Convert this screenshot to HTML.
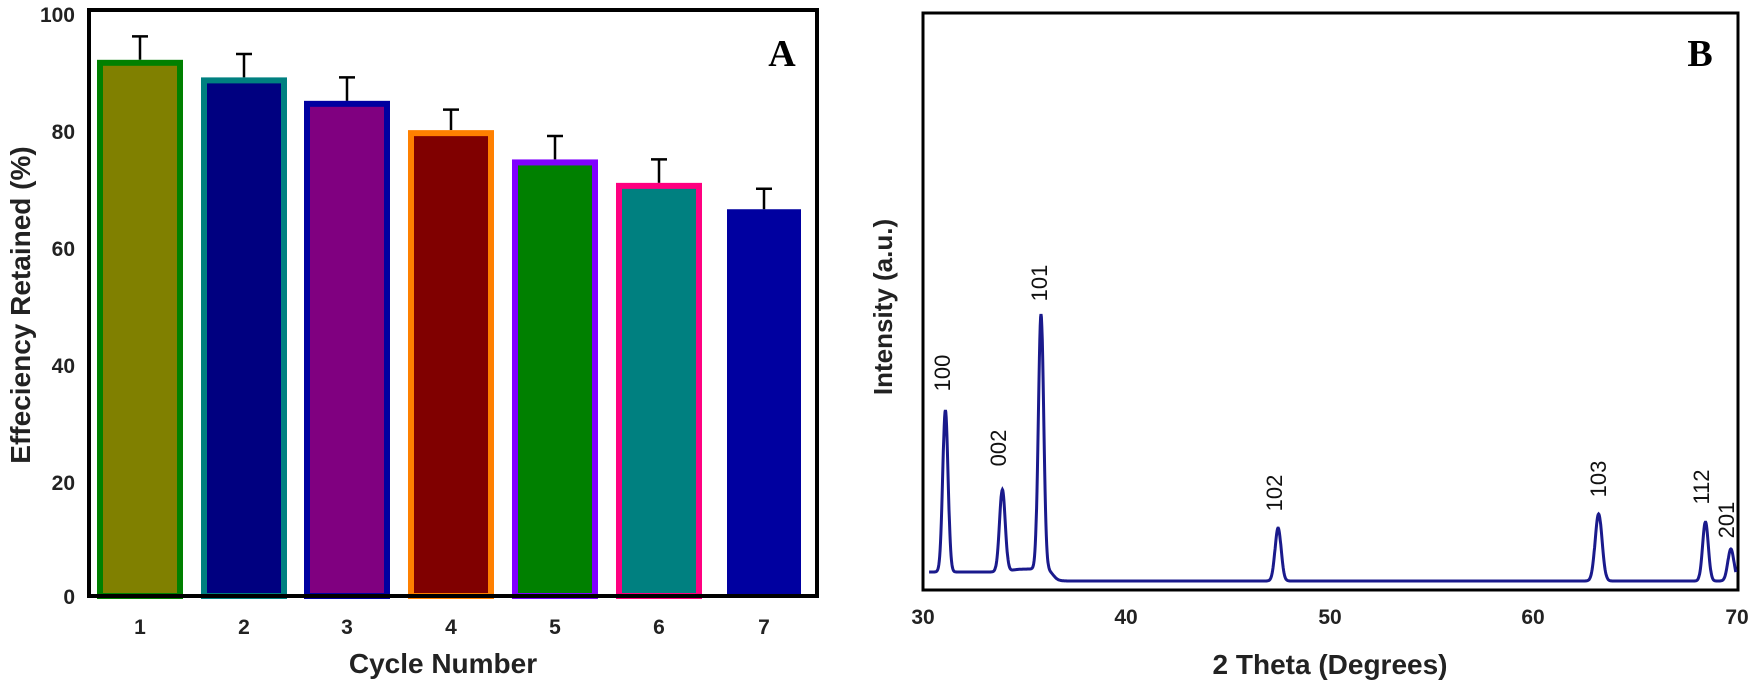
<!DOCTYPE html>
<html><head><meta charset="utf-8"><style>
html,body{margin:0;padding:0;background:#fff;}
svg{display:block;font-family:"Liberation Sans",Arial,sans-serif;}
</style></head><body>
<svg id="s" width="1752" height="685" viewBox="0 0 1752 685" xmlns="http://www.w3.org/2000/svg">
<g font-weight="bold" font-size="21" fill="#222" text-anchor="end">
<text x="75" y="22">100</text><text x="75" y="139">80</text><text x="75" y="256">60</text>
<text x="75" y="373">40</text><text x="75" y="490">20</text><text x="75" y="604">0</text>
</g>
<g font-weight="bold" font-size="21" fill="#222" text-anchor="middle">
<text x="140" y="634">1</text><text x="244" y="634">2</text><text x="347" y="634">3</text><text x="451" y="634">4</text><text x="555" y="634">5</text><text x="659" y="634">6</text><text x="764" y="634">7</text>
</g>
<text x="443" y="673" font-weight="bold" font-size="28" fill="#222" text-anchor="middle">Cycle Number</text>
<text transform="translate(30,305) rotate(-90)" font-weight="bold" font-size="28" fill="#222" text-anchor="middle">Effeciency Retained (%)</text>
<g id="bars"></g>
<rect x="89" y="10" width="728" height="586" fill="none" stroke="#000" stroke-width="4"/>
<text x="782" y="66" font-family="'Liberation Serif',serif" font-weight="bold" font-size="38" text-anchor="middle">A</text>

<rect x="923" y="13" width="815" height="577" fill="none" stroke="#000" stroke-width="3"/>
<path id="xrd" fill="none" stroke="#1a1a8c" stroke-width="3"/>
<g font-weight="bold" font-size="21" fill="#222" text-anchor="middle">
<text x="923" y="624">30</text><text x="1126" y="624">40</text><text x="1330" y="624">50</text><text x="1533" y="624">60</text><text x="1737" y="624">70</text>
</g>
<text x="1330" y="674" font-weight="bold" font-size="28" fill="#222" text-anchor="middle">2 Theta (Degrees)</text>
<text transform="translate(892,307) rotate(-90)" font-weight="bold" font-size="26" fill="#222" text-anchor="middle">Intensity (a.u.)</text>
<g font-size="22" fill="#111" text-anchor="middle">
<text transform="translate(950,373) rotate(-90)">100</text>
<text transform="translate(1006,448) rotate(-90)">002</text>
<text transform="translate(1047,283) rotate(-90)">101</text>
<text transform="translate(1282,493) rotate(-90)">102</text>
<text transform="translate(1606,479) rotate(-90)">103</text>
<text transform="translate(1709,487) rotate(-90)">112</text>
<text transform="translate(1734,520) rotate(-90)">201</text>
</g>
<text x="1700" y="66" font-family="'Liberation Serif',serif" font-weight="bold" font-size="38" text-anchor="middle">B</text>
</svg>
<script>
var ns="http://www.w3.org/2000/svg";
var g=document.getElementById("bars");
var data=[[91.5,95.5,"#808000","#008000"],[88.5,92.5,"#000080","#008080"],[84.5,88.5,"#800080","#0000a0"],[79.5,83,"#800000","#ff8000"],[74.5,78.5,"#008000","#8000ff"],[70.5,74.5,"#008080","#ff0080"],[66,69.5,"#0000a0",null]];
function Y(v){return 596-v*5.86;}
data.forEach(function(d,i){
 var cx=[140,244,347,451,555,659,764][i], w=86;
 var l=document.createElementNS(ns,"path");
 l.setAttribute("d","M"+cx+" "+Y(d[0])+"V"+Y(d[1])+"M"+(cx-8)+" "+Y(d[1])+"H"+(cx+8));
 l.setAttribute("stroke","#000");l.setAttribute("stroke-width","2.5");g.appendChild(l);
 var r=document.createElementNS(ns,"rect");
 if(d[3]){r.setAttribute("x",cx-w/2+3);r.setAttribute("y",Y(d[0])+3);r.setAttribute("width",w-6);r.setAttribute("height",596-Y(d[0])-3);
 r.setAttribute("stroke",d[3]);r.setAttribute("stroke-width","6");}
 else{r.setAttribute("x",cx-w/2+6);r.setAttribute("y",Y(d[0]));r.setAttribute("width",w-12);r.setAttribute("height",596-Y(d[0]));}
 r.setAttribute("fill",d[2]);g.appendChild(r);
});
var peaks=[[31.1,162,0.13],[33.9,82,0.14],[35.8,255,0.13],[47.45,53,0.15],[63.2,67,0.17],[68.45,59,0.14],[69.7,32,0.15]];
var p="";
for(var x=30.3;x<=69.95;x+=0.02){
 var base=572+9/(1+Math.exp(-(x-36.4)/0.12))-3/(1+Math.exp(-(x-34.3)/0.2))+3/(1+Math.exp(-(x-36.4)/0.12));
 var y=base;
 peaks.forEach(function(k){y-=k[1]*Math.exp(-Math.pow((x-k[0])/k[2],2)/2);});
 var px=923+(x-30)*20.35;
 p+=(p?"L":"M")+px.toFixed(1)+" "+y.toFixed(1);
}
document.getElementById("xrd").setAttribute("d",p);
</script>
</body></html>
